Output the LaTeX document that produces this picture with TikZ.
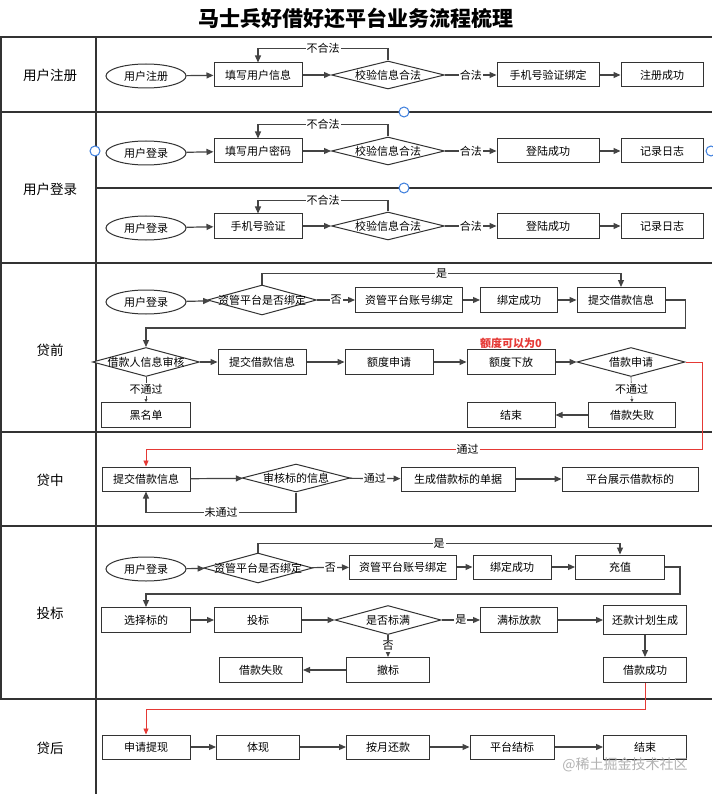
\documentclass[tikz,border=0pt]{standalone}
\usepackage{fontspec}
\setmainfont{Noto Sans CJK SC}
\usetikzlibrary{shapes.geometric,arrows.meta}
\definecolor{ln}{HTML}{333333}
\definecolor{ar}{HTML}{444444}
\definecolor{bl}{HTML}{3B7DDD}
\definecolor{rd}{HTML}{E53935}
\newcommand\bfnt{\fontsize{11}{13}\selectfont}
\begin{document}
\begin{tikzpicture}[x=1pt,y=-1pt,
  frame/.style={draw=ln,line width=1.5pt},
  box/.style={draw=ln,line width=1pt,fill=white,inner sep=0pt,minimum height=24,font=\bfnt},
  oval/.style={ellipse,draw=ln,line width=1pt,fill=white,inner sep=0pt,minimum width=80,minimum height=24,font=\bfnt},
  dia/.style={diamond,draw=ln,line width=1pt,fill=white,inner sep=0pt,minimum width=110,minimum height=29,label={[font=\bfnt]center:#1}},
  arr/.style={draw=ar,line width=1.2pt,-{Triangle[length=7pt,width=6pt]}},
  rarr/.style={draw=rd,line width=0.9pt,-{Triangle[length=6pt,width=5pt]}},
  lab/.style={fill=white,inner sep=1pt,font=\bfnt,text=black},
  lane/.style={font=\fontsize{13.5}{16}\selectfont},
  dot/.style={circle,draw=bl,line width=1pt,fill=white,minimum size=10,inner sep=0pt}]
\useasboundingbox (0,0) rectangle (712,794);
\fill[white] (0,0) rectangle (712,794);
\node[font=\fontsize{21}{25}\selectfont\bfseries] (title) at (356,18) {马士兵好借好还平台业务流程梳理};
% frame
\draw[frame] (0,37) -- (712,37);
\draw[frame] (0,112) -- (712,112);
\draw[frame] (96,188) -- (712,188);
\draw[frame] (0,263) -- (712,263);
\draw[frame] (0,432) -- (712,432);
\draw[frame] (0,526) -- (712,526);
\draw[frame] (0,699) -- (712,699);
\draw[frame] (96,37) -- (96,794);
\draw[frame] (0.75,37) -- (0.75,699);
% lane labels
\node[lane] (L1) at (50,75) {用户注册};
\node[lane] (L2) at (50,189) {用户登录};
\node[lane] (L3) at (50,350) {贷前};
\node[lane] (L4) at (50,480) {贷中};
\node[lane] (L5) at (50,613) {投标};
\node[lane] (L6) at (50,748) {贷后};
% blue circles
\node[dot] (c1) at (404,112) {};
\node[dot] (c2) at (404,188) {};
\node[dot] (c3) at (95,151) {};
\node[dot] (c4) at (711,151) {};
% ---------- 用户注册
\node[oval] (u1e) at (146,76) {用户注册};
\node[box,minimum width=88] (u1b1) at (258,75) {填写用户信息};
\node[dia=校验信息合法,minimum width=113,minimum height=28] (u1d) at (388,75) {};
\node[box,minimum width=102] (u1b2) at (548,75) {手机号验证绑定};
\node[box,minimum width=82] (u1b3) at (662,75) {注册成功};
\draw[arr] (u1e) -- (u1b1);
\draw[arr] (u1b1) -- (u1d);
\draw[arr] (u1d) -- node[lab]{合法} (u1b2);
\draw[arr] (u1b2) -- (u1b3);
\draw[arr] (u1d.north) -- ++(0,-12) -| node[lab,pos=0.25]{不合法} (u1b1.north);
% ---------- 用户登录 1
\node[oval] (u2e) at (146,153) {用户登录};
\node[box,minimum width=88] (u2b1) at (258,151) {填写用户密码};
\node[dia=校验信息合法,minimum width=113,minimum height=28] (u2d) at (388,151) {};
\node[box,minimum width=102] (u2b2) at (548,151) {登陆成功};
\node[box,minimum width=82] (u2b3) at (662,151) {记录日志};
\draw[arr] (u2e) -- (u2b1);
\draw[arr] (u2b1) -- (u2d);
\draw[arr] (u2d) -- node[lab]{合法} (u2b2);
\draw[arr] (u2b2) -- (u2b3);
\draw[arr] (u2d.north) -- ++(0,-12) -| node[lab,pos=0.25]{不合法} (u2b1.north);
% ---------- 用户登录 2
\node[oval] (u3e) at (146,228) {用户登录};
\node[box,minimum width=88] (u3b1) at (258,226) {手机号验证};
\node[dia=校验信息合法,minimum width=113,minimum height=28] (u3d) at (388,226) {};
\node[box,minimum width=102] (u3b2) at (548,226) {登陆成功};
\node[box,minimum width=82] (u3b3) at (662,226) {记录日志};
\draw[arr] (u3e) -- (u3b1);
\draw[arr] (u3b1) -- (u3d);
\draw[arr] (u3d) -- node[lab]{合法} (u3b2);
\draw[arr] (u3b2) -- (u3b3);
\draw[arr] (u3d.north) -- ++(0,-11) -| node[lab,pos=0.25]{不合法} (u3b1.north);
% ---------- 贷前
\node[oval] (qe) at (146,302) {用户登录};
\node[dia=资管平台是否绑定,minimum width=109,minimum height=30] (qd1) at (262,300) {};
\node[box,minimum width=107,minimum height=25] (qb1) at (409,300) {资管平台账号绑定};
\node[box,minimum width=77,minimum height=25] (qb2) at (519,300) {绑定成功};
\node[box,minimum width=88,minimum height=25] (qb3) at (621,300) {提交借款信息};
\draw[arr] (qe) -- (qd1);
\draw[arr] (qd1) -- node[lab]{否} (qb1);
\draw[arr] (qb1) -- (qb2);
\draw[arr] (qb2) -- (qb3);
\draw[arr] (qd1.north) -- ++(0,-11) -| node[lab,pos=0.25]{是} (qb3.north);
\node[dia=借款人信息审核,minimum width=107,minimum height=29] (qd2) at (146,362) {};
\node[box,minimum width=88,minimum height=25] (qb4) at (262,362) {提交借款信息};
\node[box,minimum width=88,minimum height=25] (qb5) at (389,362) {额度申请};
\node[box,minimum width=88,minimum height=25] (qb6) at (511,362) {额度下放};
\node[dia=借款申请,minimum width=108,minimum height=29] (qd3) at (631,362) {};
\node[font=\bfnt\bfseries,text=rd] (qnote) at (511,343) {额度可以为0};
\draw[arr] (qb3.east) -- ++(20,0) -- ++(0,28) -| (qd2.north);
\draw[arr] (qd2) -- (qb4);
\draw[arr] (qb4) -- (qb5);
\draw[arr] (qb5) -- (qb6);
\draw[arr] (qb6) -- (qd3);
\node[box,minimum width=89,minimum height=25] (qb7) at (146,415) {黑名单};
\node[box,minimum width=88,minimum height=25] (qb8) at (511,415) {结束};
\node[box,minimum width=87,minimum height=25] (qb9) at (632,415) {借款失败};
\draw[draw=ar,line width=0.6pt,-{Triangle[length=3pt,width=3pt]}] (qd2.south) -- node[lab]{不通过} (qb7.north);
\draw[draw=ar,line width=0.6pt,-{Triangle[length=3pt,width=3pt]}] (qd3.south) -- node[lab]{不通过} (qb9.north);
\draw[arr] (qb9) -- (qb8);
% ---------- 贷中
\node[box,minimum width=88] (zb1) at (146,479) {提交借款信息};
\node[dia=审核标的信息,minimum width=108,minimum height=28] (zd1) at (296,478) {};
\node[box,minimum width=114] (zb2) at (458,479) {生成借款标的单据};
\node[box,minimum width=136] (zb3) at (630,479) {平台展示借款标的};
\draw[rarr] (qd3.east) -- ++(17,0) -- ++(0,87) -| node[lab,pos=0.211]{通过} (zb1.north);
\draw[arr] (zb1) -- (zd1);
\draw[arr] (zd1) -- node[lab]{通过} (zb2);
\draw[arr] (zb2) -- (zb3);
\draw[arr] (zd1.south) -- ++(0,20) -| node[lab,pos=0.25]{未通过} (zb1.south);
% ---------- 投标
\node[oval] (te) at (146,569) {用户登录};
\node[dia=资管平台是否绑定,minimum width=109,minimum height=30] (td1) at (258,568) {};
\node[box,minimum width=107] (tb1) at (403,567) {资管平台账号绑定};
\node[box,minimum width=78] (tb2) at (512,567) {绑定成功};
\node[box,minimum width=89] (tb3) at (620,567) {充值};
\draw[arr] (te) -- (td1);
\draw[arr] (td1) -- node[lab]{否} (tb1);
\draw[arr] (tb1) -- (tb2);
\draw[arr] (tb2) -- (tb3);
\draw[arr] (td1.north) -- ++(0,-9) -| node[lab,pos=0.25]{是} (tb3.north);
\node[box,minimum width=89,minimum height=25] (tb4) at (146,620) {选择标的};
\node[box,minimum width=87,minimum height=25] (tb5) at (258,620) {投标};
\node[dia=是否标满,minimum width=106,minimum height=29] (td2) at (388,620) {};
\node[box,minimum width=77,minimum height=25] (tb6) at (519,620) {满标放款};
\node[box,minimum width=83,minimum height=29] (tb7) at (645,620) {还款计划生成};
\draw[arr] (tb3.east) -- ++(15,0) -- ++(0,27) -| (tb4.north);
\draw[arr] (tb4) -- (tb5);
\draw[arr] (tb5) -- (td2);
\draw[arr] (td2) -- node[lab]{是} (tb6);
\draw[arr] (tb6) -- (tb7);
\node[box,minimum width=83,minimum height=25] (tb8) at (261,670) {借款失败};
\node[box,minimum width=83,minimum height=25] (tb9) at (388,670) {撤标};
\node[box,minimum width=83,minimum height=25] (tb10) at (645,670) {借款成功};
\draw[arr] (td2.south) -- node[lab]{否} (tb9.north);
\draw[arr] (tb9) -- (tb8);
\draw[arr] (tb7) -- (tb10);
% ---------- 贷后
\node[box,minimum width=88] (hb1) at (146,747) {申请提现};
\node[box,minimum width=83] (hb2) at (258,747) {体现};
\node[box,minimum width=83] (hb3) at (388,747) {按月还款};
\node[box,minimum width=84] (hb4) at (512,747) {平台结标};
\node[box,minimum width=83] (hb5) at (645,747) {结束};
\draw[rarr] (tb10.south) -- ++(0,26) -| (hb1.north);
\draw[arr] (hb1) -- (hb2);
\draw[arr] (hb2) -- (hb3);
\draw[arr] (hb3) -- (hb4);
\draw[arr] (hb4) -- (hb5);
\node[font=\fontsize{14}{16}\selectfont,text=black!30] (wm) at (625,765) {@稀土掘金技术社区};
\end{tikzpicture}
\end{document}
